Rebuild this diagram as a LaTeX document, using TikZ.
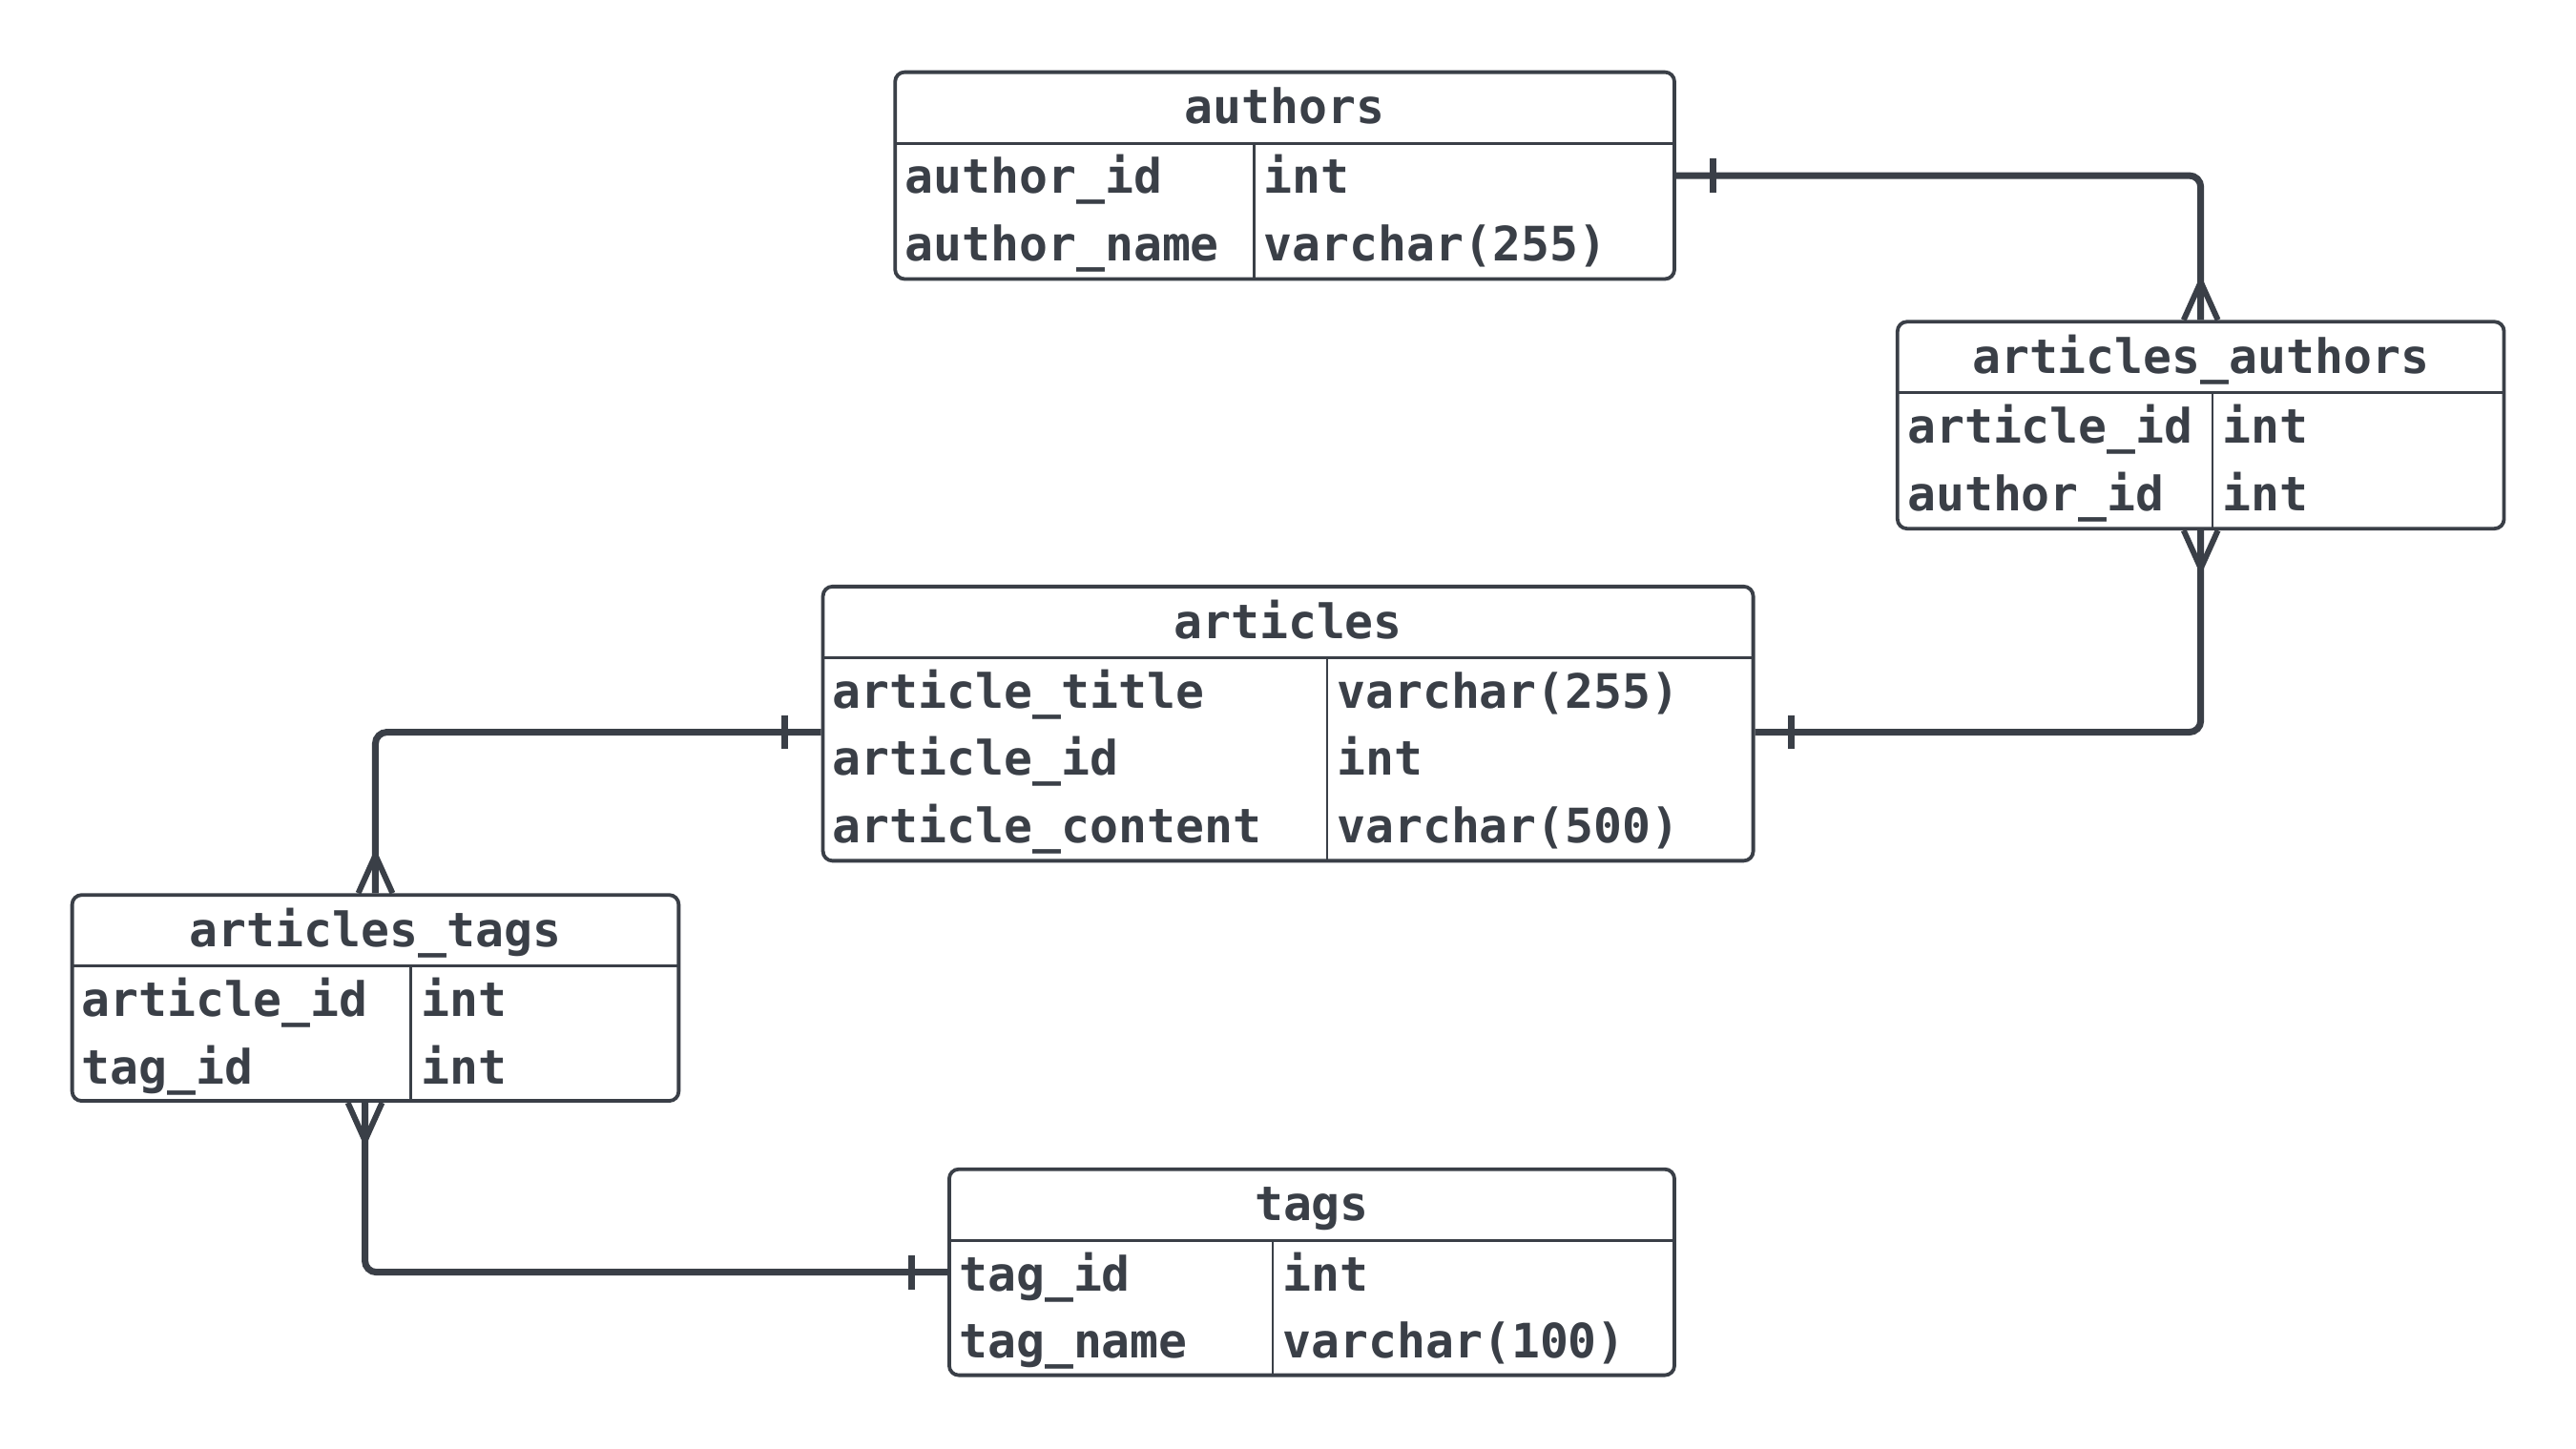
\documentclass[tikz,border=0pt]{standalone}
\usepackage{fontspec}
\newfontfamily\erfont{DejaVu Sans Mono}
\usetikzlibrary{fit,calc}
\definecolor{ink}{RGB}{58,63,71}
\begin{document}
\begin{tikzpicture}[x=0.49745pt,y=-0.49745pt,
  tbl/.style={draw=ink, line width=1.9pt, rounded corners=5pt, inner sep=0pt, fill=white},
  hsep/.style={draw=ink, line width=1.6pt},
  vsep/.style={draw=ink, line width=1.3pt},
  ttl/.style={text=ink, font=\erfont\bfseries\fontsize{24.87pt}{30pt}\selectfont, inner sep=0pt, anchor=base},
  fld/.style={text=ink, font=\erfont\bfseries\fontsize{24.87pt}{30pt}\selectfont, inner sep=0pt, anchor=base west},
  conn/.style={draw=ink, line width=3.5pt, rounded corners=6pt},
  onebar/.style={draw=ink, line width=3.4pt},
  crowft/.style={draw=ink, line width=3pt, line join=round}
]
\useasboundingbox[fill=white] (0pt,0pt) rectangle (1350pt,-759.5pt);

% ---------- authors
\node[tbl, fit={(943,76) (1764,294)}] (authors) {};
\draw[hsep] (943,151) -- (1764,151);
\draw[vsep] (1321,151) -- (1321,294);
\node[ttl] (authorsT) at (1353.5,130.5) {authors};
\node[fld] (authorsF1) at (953,204) {author\_id};
\node[fld] (authorsF2) at (953,275) {author\_name};
\node[fld] (authorsY1) at (1331,204) {int};
\node[fld] (authorsY2) at (1331,275) {varchar(255)};

% ---------- articles_authors
\node[tbl, fit={(1999,339) (2638,557)}] (aa) {};
\draw[hsep] (1999,414) -- (2638,414);
\draw[vsep] (2331,414) -- (2331,557);
\node[ttl] (aaT) at (2318.5,393.5) {articles\_authors};
\node[fld] (aaF1) at (2009,467) {article\_id};
\node[fld] (aaF2) at (2009,538) {author\_id};
\node[fld] (aaY1) at (2341,467) {int};
\node[fld] (aaY2) at (2341,538) {int};

% ---------- articles
\node[tbl, fit={(867,618) (1847,907)}] (art) {};
\draw[hsep] (867,693) -- (1847,693);
\draw[vsep] (1398,693) -- (1398,907);
\node[ttl] (artT) at (1357,672.5) {articles};
\node[fld] (artF1) at (877,746) {article\_title};
\node[fld] (artF2) at (877,817) {article\_id};
\node[fld] (artF3) at (877,888) {article\_content};
\node[fld] (artY1) at (1408,746) {varchar(255)};
\node[fld] (artY2) at (1408,817) {int};
\node[fld] (artY3) at (1408,888) {varchar(500)};

% ---------- articles_tags
\node[tbl, fit={(76,943) (715,1160)}] (at) {};
\draw[hsep] (76,1018) -- (715,1018);
\draw[vsep] (433,1018) -- (433,1160);
\node[ttl] (atT) at (395.5,997.5) {articles\_tags};
\node[fld] (atF1) at (86,1071) {article\_id};
\node[fld] (atF2) at (86,1142) {tag\_id};
\node[fld] (atY1) at (443,1071) {int};
\node[fld] (atY2) at (443,1142) {int};

% ---------- tags
\node[tbl, fit={(1000,1232) (1764,1449)}] (tags) {};
\draw[hsep] (1000,1307) -- (1764,1307);
\draw[vsep] (1341,1307) -- (1341,1449);
\node[ttl] (tagsT) at (1382,1286.5) {tags};
\node[fld] (tagsF1) at (1010,1360) {tag\_id};
\node[fld] (tagsF2) at (1010,1431) {tag\_name};
\node[fld] (tagsY1) at (1351,1360) {int};
\node[fld] (tagsY2) at (1351,1431) {varchar(100)};

% ---------- connector anchors
\coordinate (artE) at ($(art.east)+(0,9)$);
\coordinate (artW) at ($(art.west)+(0,9)$);
\coordinate (atS) at ($(at.south)+(-11,0)$);

% ---------- connectors
\draw[conn] (authors.east) -| (aa.north);
\draw[conn] (artE) -| (aa.south);
\draw[conn] (artW) -| (at.north);
\draw[conn] (tags.west) -| (atS);

% ---------- one bars
\draw[onebar] ($(authors.east)+(39,-18)$) -- ($(authors.east)+(39,18)$);
\draw[onebar] ($(artE)+(38,-18)$) -- ($(artE)+(38,18)$);
\draw[onebar] ($(artW)+(-38,-18)$) -- ($(artW)+(-38,18)$);
\draw[onebar] ($(tags.west)+(-38,-18)$) -- ($(tags.west)+(-38,18)$);

% ---------- crow's feet
\draw[crowft] ($(aa.north)+(-18,0)$) -- ($(aa.north)+(0,-40)$) -- ($(aa.north)+(18,0)$);
\draw[crowft] ($(aa.south)+(-18,0)$) -- ($(aa.south)+(0,40)$) -- ($(aa.south)+(18,0)$);
\draw[crowft] ($(at.north)+(-18,0)$) -- ($(at.north)+(0,-40)$) -- ($(at.north)+(18,0)$);
\draw[crowft] ($(atS)+(-18,0)$) -- ($(atS)+(0,40)$) -- ($(atS)+(18,0)$);
\end{tikzpicture}
\end{document}
